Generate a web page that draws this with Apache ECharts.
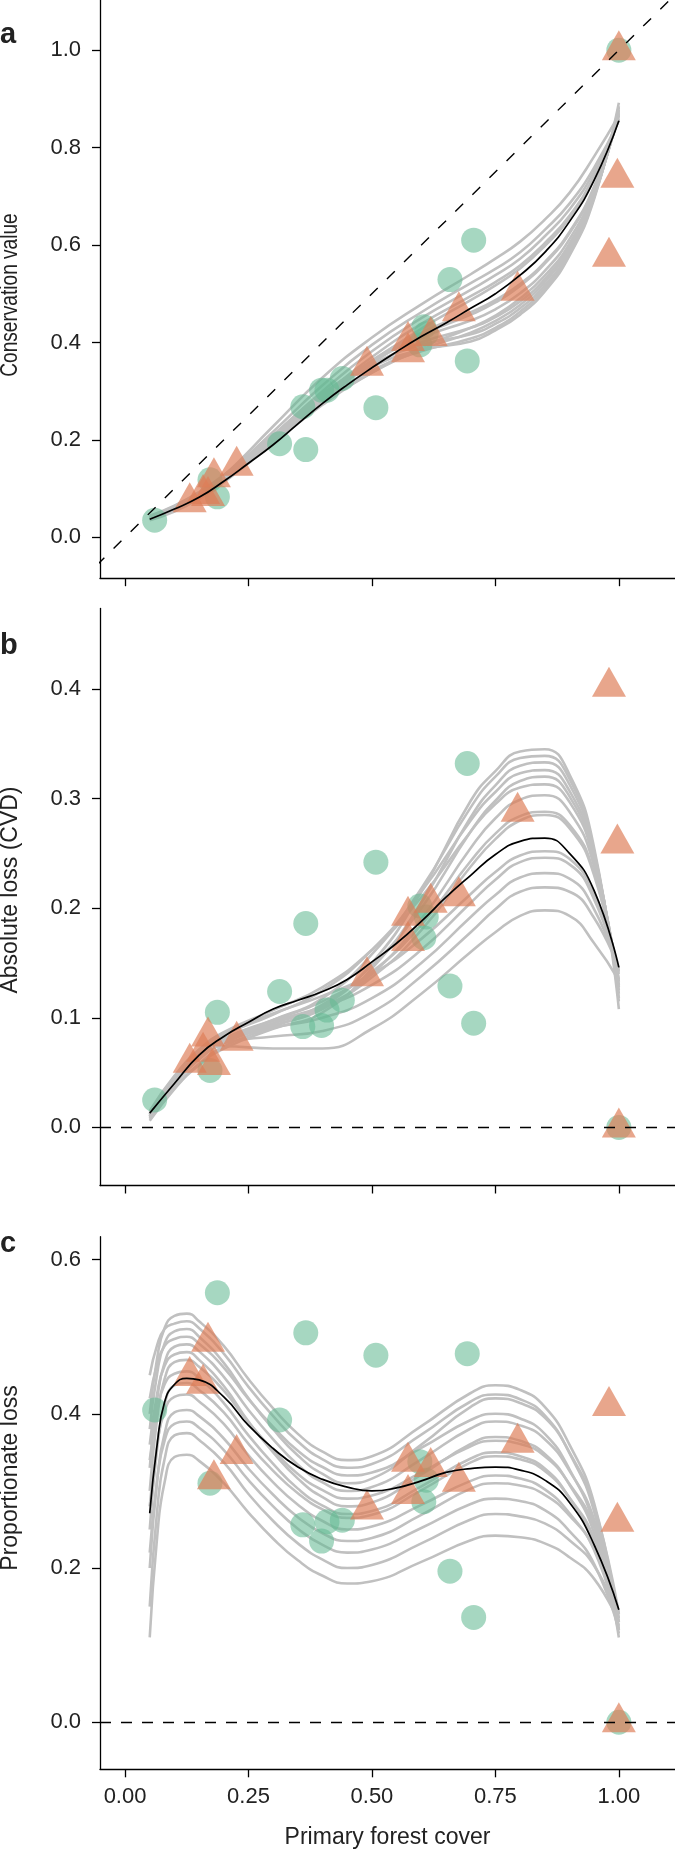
<!DOCTYPE html>
<html><head><meta charset="utf-8">
<script src="https://cdn.jsdelivr.net/npm/echarts@6/dist/echarts.min.js"></script>
<style>html,body{margin:0;padding:0;background:#fff}#c{width:675px;height:1854px}</style>
</head><body><div id="c"></div>
<script>
// ---------- data ----------
const circleX = [0.060,0.172,0.187,0.313,0.366,0.360,0.398,0.409,0.440,0.508,0.597,0.605,0.610,0.658,0.693,0.706,1.000];
const circleA = [0.035,0.118,0.083,0.192,0.180,0.268,0.302,0.302,0.326,0.266,0.395,0.432,0.418,0.529,0.362,0.610,1.000];
const circleB = [0.025,0.052,0.105,0.124,0.186,0.092,0.093,0.107,0.116,0.242,0.202,0.173,0.192,0.129,0.332,0.095,0.000];
const circleC = [0.405,0.310,0.557,0.392,0.505,0.256,0.235,0.260,0.262,0.476,0.338,0.286,0.314,0.196,0.478,0.136,0.000];

const triX = [0.131,0.158,0.168,0.180,0.226,0.490,0.573,0.573,0.619,0.676,0.795,0.980,0.997,1.000];
const triA = [0.072,0.089,0.085,0.123,0.147,0.352,0.380,0.403,0.413,0.464,0.506,0.576,0.738,1.000];
const triB = [0.059,0.069,0.083,0.057,0.079,0.138,0.193,0.170,0.205,0.211,0.288,0.402,0.259,0.000];
const triC = [0.449,0.439,0.4935,0.315,0.348,0.276,0.338,0.296,0.331,0.312,0.3625,0.410,0.260,0.000];

const xTicks = [0, 0.25, 0.5, 0.75, 1.0];
const yTicksA = [0, 0.2, 0.4, 0.6, 0.8, 1.0];
const yTicksB = [0, 0.1, 0.2, 0.3, 0.4];
const yTicksC = [0, 0.2, 0.4, 0.6];

const refLineA = [[-0.3,-0.3],[1.3,1.3]];

const blackX = [0.05,0.1,0.15,0.2,0.25,0.3,0.35,0.4,0.45,0.5,0.55,0.6,0.65,0.7,0.75,0.8,0.85,0.9,0.95,1.0];
const blackA = [0.037,0.058,0.082,0.115,0.152,0.190,0.233,0.275,0.313,0.348,0.381,0.412,0.440,0.470,0.500,0.538,0.585,0.648,0.733,0.855];
const blackB = [0.013,0.040,0.066,0.083,0.096,0.108,0.116,0.124,0.135,0.151,0.168,0.188,0.210,0.230,0.249,0.261,0.264,0.250,0.216,0.146];
const blackXc = [0.05,0.065,0.08,0.1,0.125,0.15,0.2,0.25,0.3,0.35,0.4,0.45,0.5,0.55,0.6,0.65,0.7,0.75,0.8,0.85,0.9,0.95,1.0];
const blackC = [0.271,0.360,0.415,0.438,0.446,0.444,0.422,0.385,0.355,0.331,0.315,0.305,0.300,0.304,0.313,0.324,0.329,0.331,0.327,0.314,0.285,0.230,0.146];

const grayX = [0.05,0.1,0.15,0.2,0.3,0.4,0.5,0.6,0.7,0.75,0.8,0.85,0.9,0.95,1.0];
const grayA = [
 [.042,.064,.092,.126,.208,.290,.350,.385,.402,.425,.457,.505,.578,.695,.892],
 [.038,.058,.085,.120,.202,.282,.342,.382,.408,.430,.463,.511,.582,.698,.885],
 [.044,.065,.093,.128,.210,.295,.355,.395,.417,.438,.470,.517,.587,.700,.882],
 [.036,.055,.081,.116,.197,.275,.338,.385,.420,.444,.477,.524,.593,.702,.878],
 [.040,.060,.087,.122,.205,.288,.352,.400,.430,.452,.484,.530,.598,.704,.875],
 [.035,.053,.079,.113,.193,.272,.338,.390,.430,.455,.490,.537,.603,.707,.872],
 [.041,.061,.088,.123,.207,.292,.360,.410,.445,.468,.501,.547,.612,.712,.870],
 [.038,.057,.084,.119,.202,.285,.358,.415,.457,.482,.516,.562,.624,.718,.867],
 [.040,.059,.086,.121,.205,.290,.363,.420,.462,.487,.520,.565,.627,.720,.865],
 [.037,.055,.080,.114,.196,.280,.360,.428,.487,.517,.552,.598,.655,.738,.860],
 [.039,.058,.084,.119,.203,.290,.370,.438,.495,.524,.558,.604,.660,.742,.858],
 [.038,.056,.082,.120,.209,.300,.382,.450,.508,.538,.572,.618,.673,.751,.857],
 [.040,.058,.084,.123,.217,.312,.395,.462,.522,.551,.585,.631,.685,.759,.855],
 [.042,.060,.086,.126,.228,.328,.410,.478,.540,.572,.607,.652,.707,.782,.866]
];
const grayB = [
 [.008,.036,.058,.074,.092,.110,.150,.215,.298,.325,.343,.345,.322,.255,.108],
 [.012,.042,.065,.080,.098,.118,.158,.218,.292,.320,.337,.339,.318,.252,.115],
 [.006,.035,.057,.072,.090,.105,.145,.205,.283,.312,.330,.333,.313,.250,.118],
 [.014,.045,.069,.084,.103,.125,.162,.215,.280,.306,.323,.326,.307,.248,.122],
 [.010,.040,.063,.078,.095,.112,.148,.200,.270,.298,.316,.320,.302,.246,.125],
 [.015,.047,.071,.087,.107,.128,.162,.210,.270,.295,.310,.313,.297,.243,.128],
 [.009,.039,.062,.077,.093,.108,.140,.190,.255,.282,.299,.303,.288,.238,.130],
 [.012,.043,.066,.081,.098,.115,.142,.185,.243,.268,.284,.288,.276,.232,.133],
 [.010,.041,.064,.079,.095,.110,.137,.180,.238,.263,.280,.285,.273,.230,.135],
 [.013,.045,.070,.086,.104,.120,.140,.172,.213,.233,.248,.252,.245,.212,.140],
 [.011,.042,.066,.081,.097,.110,.130,.162,.205,.226,.242,.246,.240,.208,.142],
 [.012,.044,.068,.080,.091,.100,.118,.150,.192,.212,.228,.232,.227,.199,.143],
 [.010,.042,.066,.077,.083,.088,.105,.138,.178,.199,.215,.219,.215,.191,.145],
 [.008,.040,.064,.074,.072,.072,.090,.122,.160,.178,.193,.198,.193,.168,.134]
];
const grayXc = [0.05,0.065,0.08,0.1,0.125,0.15,0.2,0.25,0.3,0.35,0.4,0.45,0.5,0.6,0.7,0.75,0.8,0.85,0.9,0.95,1.0];
const grayC = [
 [.400,.472,.511,.527,.530,.520,.488,.445,.407,.374,.351,.340,.345,.384,.427,.437,.431,.409,.360,.284,.130],
 [.450,.489,.510,.517,.520,.511,.478,.435,.397,.364,.341,.330,.335,.373,.416,.425,.419,.398,.349,.273,.120],
 [.380,.452,.491,.507,.510,.500,.466,.420,.380,.346,.322,.310,.316,.360,.409,.420,.414,.395,.350,.280,.140],
 [.420,.464,.488,.497,.500,.491,.460,.419,.383,.352,.331,.320,.324,.356,.392,.400,.394,.374,.328,.255,.110],
 [.330,.418,.466,.487,.490,.481,.448,.405,.367,.334,.311,.300,.305,.341,.381,.390,.385,.367,.326,.263,.135],
 [.360,.426,.462,.477,.480,.470,.436,.390,.350,.316,.292,.280,.285,.321,.361,.370,.365,.348,.308,.245,.120],
 [.300,.394,.445,.467,.470,.461,.430,.389,.353,.322,.301,.290,.294,.324,.358,.365,.361,.345,.309,.253,.140],
 [.340,.403,.438,.452,.455,.446,.414,.372,.335,.303,.281,.270,.274,.306,.342,.350,.345,.329,.291,.233,.115],
 [.250,.355,.412,.437,.440,.431,.402,.361,.326,.297,.276,.265,.269,.301,.337,.345,.341,.326,.291,.238,.130],
 [.280,.360,.403,.422,.425,.416,.387,.346,.311,.282,.261,.250,.254,.282,.313,.320,.316,.302,.271,.223,.125],
 [.200,.313,.374,.402,.405,.397,.368,.329,.295,.266,.245,.235,.239,.269,.303,.310,.307,.295,.268,.225,.140],
 [.220,.314,.365,.387,.390,.382,.353,.314,.280,.251,.230,.220,.224,.252,.283,.290,.287,.275,.248,.205,.120],
 [.150,.274,.341,.372,.375,.366,.337,.296,.261,.232,.211,.200,.204,.232,.263,.270,.267,.258,.236,.203,.135],
 [.110,.240,.311,.344,.347,.339,.310,.272,.238,.210,.190,.180,.183,.208,.236,.242,.240,.232,.214,.186,.130]
];

// ---------- styling ----------
const FONT = '"Liberation Sans", Arial, sans-serif';
const GREEN = 'rgba(100,186,148,0.72)';
const ORANGE = 'rgba(222,126,87,0.86)';
const GRAY = '#c0c0c0';

const zip = (xs, ys) => xs.map((x, i) => [x, ys[i]]);

function xAxisCfg(idx, showLabels) {
  return {
    type: 'value', gridIndex: idx, min: -0.0507, max: 1.1137,
    splitLine: {show: false},
    axisLine: {show: true, onZero: false, lineStyle: {color: '#000', width: 1.3}},
    axisTick: {show: true, length: 8, customValues: xTicks, lineStyle: {color: '#000', width: 1.3}},
    axisLabel: {show: showLabels, customValues: xTicks, formatter: v => v.toFixed(2),
      fontSize: 22, fontFamily: FONT, color: '#222', margin: 17},
    name: showLabels ? 'Primary forest cover' : '',
    nameLocation: 'middle', nameGap: 57,
    nameTextStyle: {fontSize: 23, fontFamily: FONT, color: '#222'}
  };
}
function yAxisCfg(idx, min, max, ticks) {
  return {
    type: 'value', gridIndex: idx, min: min, max: max,
    splitLine: {show: false},
    axisLine: {show: true, onZero: false, lineStyle: {color: '#000', width: 1.3}},
    axisTick: {show: true, length: 8, customValues: ticks, lineStyle: {color: '#000', width: 1.3}},
    axisLabel: {show: true, customValues: ticks, formatter: v => v.toFixed(1),
      fontSize: 22, fontFamily: FONT, color: '#222', margin: 19}
  };
}

const series = [];
function addPanel(idx, grays, gx, bx, by, cy, ty, zeroLine) {
  grays.forEach(g => series.push({
    type: 'line', xAxisIndex: idx, yAxisIndex: idx, data: zip(gx, g),
    smooth: 0.5, symbol: 'none', silent: true, z: 1,
    lineStyle: {color: GRAY, width: 2.6}
  }));
  series.push({
    type: 'scatter', xAxisIndex: idx, yAxisIndex: idx, data: zip(circleX, cy),
    symbol: 'circle', symbolSize: 25, z: 2, itemStyle: {color: GREEN},
    markLine: zeroLine ? {silent: true, symbol: 'none', label: {show: false}, z: 10,
      lineStyle: {type: [11, 10], color: '#000', width: 1.4}, data: [{yAxis: 0}]} : undefined
  });
  series.push({
    type: 'scatter', xAxisIndex: idx, yAxisIndex: idx, data: zip(triX, ty),
    symbol: 'triangle', symbolSize: [34, 30], symbolOffset: [0, -5], z: 3,
    itemStyle: {color: ORANGE}
  });
  series.push({
    type: 'line', xAxisIndex: idx, yAxisIndex: idx, data: zip(bx, by),
    smooth: 0.5, symbol: 'none', silent: true, z: 4,
    lineStyle: {color: '#000', width: 1.7}
  });
}
addPanel(0, grayA, grayX, blackX, blackA, circleA, triA, false);
addPanel(1, grayB, grayX, blackX, blackB, circleB, triB, true);
addPanel(2, grayC, grayXc, blackXc, blackC, circleC, triC, true);
series.push({
  type: 'line', xAxisIndex: 0, yAxisIndex: 0, data: refLineA, clip: true,
  symbol: 'none', silent: true, z: 10,
  lineStyle: {color: '#000', width: 1.4, type: [11, 13]}
});

function label(t, x, y) {
  return {type: 'text', x: x, y: y, z: 20,
    style: {text: t, font: 'bold 29px ' + FONT, fill: '#222', align: 'left', verticalAlign: 'middle'}};
}
function ytitle(t, y, sx) {
  return {type: 'text', x: 11, y: y, rotation: Math.PI / 2, scaleX: sx, z: 20,
    style: {text: t, font: '23px ' + FONT, fill: '#222', align: 'center', verticalAlign: 'middle'}};
}

const option = {
  animation: false,
  backgroundColor: '#fff',
  grid: [
    {left: 100, top: 0, width: 590, height: 578.2},
    {left: 100, top: 608.4, width: 590, height: 577.1},
    {left: 100, top: 1236.7, width: 590, height: 532.6}
  ],
  xAxis: [xAxisCfg(0, false), xAxisCfg(1, false), xAxisCfg(2, true)],
  yAxis: [
    yAxisCfg(0, -0.084, 1.103, yTicksA),
    yAxisCfg(1, -0.053, 0.4735, yTicksB),
    yAxisCfg(2, -0.061, 0.6297, yTicksC)
  ],
  graphic: [
    label('a', 0, 35), label('b', 0, 646), label('c', 0, 1244),
    ytitle('Conservation value', 295, 0.83),
    ytitle('Absolute loss (CVD)', 890, 1),
    ytitle('Proportionate loss', 1478, 1)
  ],
  series: series
};
const chart = echarts.init(document.getElementById('c'), null, {renderer: 'canvas'});
chart.setOption(option);
</script></body></html>
